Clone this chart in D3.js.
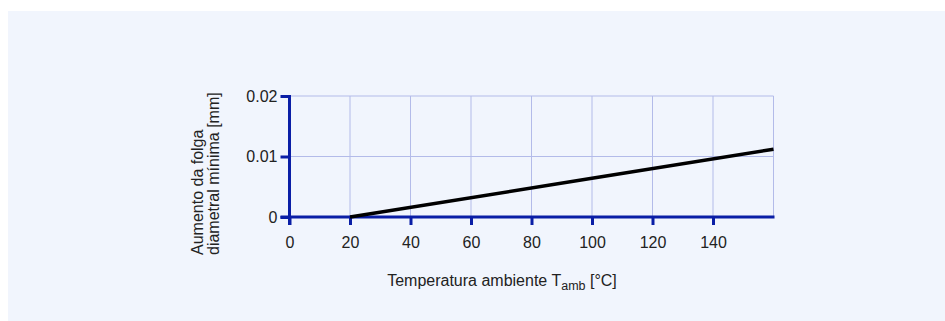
<html>
<script src="https://d3js.org/d3.v7.min.js"></script>
<style>
  body { margin: 0; background: #fff; }
  text { font-family: Arial, "Liberation Sans", sans-serif; }
</style>
<body>
<div id="chart"></div>
<script>
  // data
  const temps = [20, 100, 160];
  const gaps = [0, 0.0064, 0.0112];
  const xTicks = [0, 20, 40, 60, 80, 100, 120, 140];
  const xGrid = [20, 40, 60, 80, 100, 120, 140, 160];
  const yTicks = [0, 0.01, 0.02];
  const yLabels = ["0", "0.01", "0.02"];

  var W = 945, H = 321;
  var svg = d3.select("#chart").append("svg")
    .attr("width", W).attr("height", H);

  svg.append("rect").attr("x", 8).attr("y", 11)
    .attr("width", W - 8).attr("height", H - 11)
    .attr("fill", "#f1f5fd");

  var x = d3.scaleLinear().domain([0, 160]).range([289.5, 773.5]);
  var y = d3.scaleLinear().domain([0, 0.02]).range([217, 96]);

  // grid
  svg.append("g").selectAll("line").data(xGrid).enter().append("line")
    .attr("x1", d => x(d)).attr("x2", d => x(d))
    .attr("y1", y(0)).attr("y2", y(0.02))
    .attr("stroke", "#b3bbe9").attr("stroke-width", 1);
  svg.append("g").selectAll("line").data(yTicks.slice(1)).enter().append("line")
    .attr("x1", x(0)).attr("x2", x(160))
    .attr("y1", d => y(d)).attr("y2", d => y(d))
    .attr("stroke", "#b3bbe9").attr("stroke-width", 1);

  var blue = "#0a1ea6";
  var font = "Arial, 'Liberation Sans', sans-serif";

  // x axis
  var xa = svg.append("g").attr("transform", "translate(0," + y(0) + ")")
    .call(d3.axisBottom(x).tickValues(xTicks).tickSize(8).tickSizeOuter(0).tickPadding(12));
  xa.select(".domain").attr("stroke", blue).attr("stroke-width", 3)
    .attr("d", "M" + (x(0) - 9) + ",0H" + (x(160) + 1));
  xa.selectAll(".tick line").attr("stroke", blue).attr("stroke-width", 3);
  xa.selectAll(".tick text").attr("fill", "#222").style("font-size", "16px")
    .style("font-family", font);

  // y axis
  var ya = svg.append("g").attr("transform", "translate(" + x(0) + ",0)")
    .call(d3.axisLeft(y).tickValues(yTicks).tickFormat((d, i) => yLabels[i])
      .tickSize(9).tickSizeOuter(0).tickPadding(3));
  ya.select(".domain").attr("stroke", blue).attr("stroke-width", 3)
    .attr("d", "M0," + (y(0.02) - 1) + "V" + (y(0) + 8));
  ya.selectAll(".tick line").attr("stroke", blue).attr("stroke-width", 3);
  ya.selectAll(".tick text").attr("fill", "#222").style("font-size", "16px")
    .style("font-family", font);

  // curve
  svg.append("path")
    .datum(temps.map((t, i) => [t, gaps[i]]))
    .attr("fill", "none").attr("stroke", "#000").attr("stroke-width", 3.5)
    .attr("d", d3.line().x(d => x(d[0])).y(d => y(d[1])));

  // y title
  var yt = svg.append("text")
    .attr("transform", "translate(203,255) rotate(-90)")
    .attr("text-anchor", "start").attr("fill", "#222").style("font-size", "16px");
  yt.append("tspan").attr("x", 0).attr("y", 0).text("Aumento da folga");
  yt.append("tspan").attr("x", 0).attr("y", 15.5).text("diametral mínima [mm]");

  // x title
  var xt = svg.append("text")
    .attr("x", 502).attr("y", 286)
    .attr("text-anchor", "middle").attr("fill", "#222").style("font-size", "16px");
  xt.append("tspan").text("Temperatura ambiente T");
  xt.append("tspan").attr("dy", 4).style("font-size", "12.5px").text("amb");
  xt.append("tspan").attr("dy", -4).text(" [°C]");
</script>
</body>
</html>
